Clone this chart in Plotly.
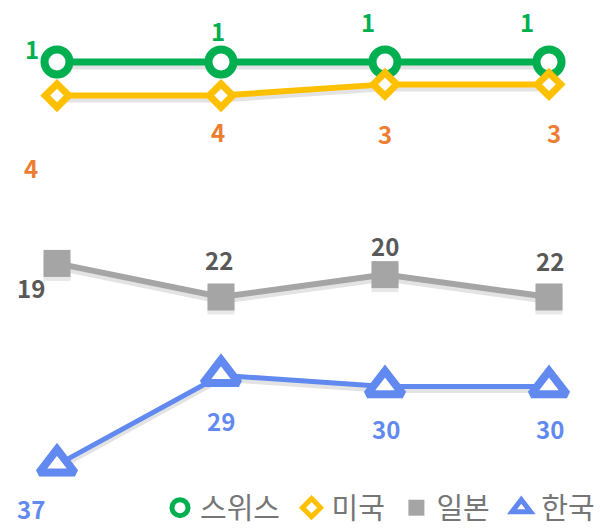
import plotly.graph_objects as go

periods = [0, 1, 2, 3]
series_names = ["스위스", "미국", "일본", "한국"]
swiss = [1, 1, 1, 1]
usa = [4, 4, 3, 3]
japan = [19, 22, 20, 22]
korea = [37, 29, 30, 30]

line_colors = ["#00B050", "#FFC000", "#A5A5A5", "#6289F0"]
label_colors = ["#00B050", "#ED7D31", "#595959", "#6289F0"]
values = [swiss, usa, japan, korea]

# label offsets (px) per series/point
label_offsets = [
    [(-25, -14), (-3, -32), (-17, -41), (-22, -41)],
    [(-26, 72), (-3, 36), (0, 49), (5, 48)],
    [(-26, 24), (-2, -37), (0, -29), (1, -36)],
    [(-26, 44), (0, 45), (1, 42), (1, 42)],
]

markers = [
    dict(symbol="circle", size=25, color="white", line=dict(color=line_colors[0], width=8)),
    dict(symbol="diamond", size=18, color="white", line=dict(color=line_colors[1], width=7)),
    dict(symbol="square", size=27, color=line_colors[2], line=dict(color=line_colors[2], width=0)),
    dict(symbol="triangle-up", size=31, color="white", line=dict(color=line_colors[3], width=8)),
]
legend_markers = [
    dict(symbol="circle", size=16, color="white", line=dict(color=line_colors[0], width=5)),
    dict(symbol="diamond", size=14, color="white", line=dict(color=line_colors[1], width=5)),
    dict(symbol="square", size=16, color=line_colors[2], line=dict(width=0)),
    dict(symbol="triangle-up", size=18, color="white", line=dict(color=line_colors[3], width=5)),
]
line_widths = [7, 6, 6, 5]

fig = go.Figure()

# soft shadows (drawn on the lower axis so real series sit on top)
for vals, m, lw in zip(values, markers, line_widths):
    fig.add_trace(go.Scatter(
        x=periods, y=vals, mode="lines+markers", yaxis="y", showlegend=False,
        hoverinfo="skip",
        line=dict(color="rgba(0,0,0,0.11)", width=lw),
        marker=dict(symbol=m["symbol"], size=m["size"], color="rgba(0,0,0,0.09)",
                    line=dict(color="rgba(0,0,0,0)", width=m["line"]["width"])),
    ))

for name, vals, col, m, lw in zip(series_names, values, line_colors, markers, line_widths):
    fig.add_trace(go.Scatter(
        x=periods, y=vals, mode="lines+markers", name=name, yaxis="y2",
        line=dict(color=col, width=lw), marker=m, showlegend=False,
    ))

# legend entries (markers only)
pad = "\u00a0"
for i, (name, lm) in enumerate(zip(series_names, legend_markers)):
    label = name + (pad if i < len(series_names) - 1 else "")
    fig.add_trace(go.Scatter(x=[None], y=[None], mode="markers", name=label,
                             yaxis="y2", marker=lm))

for vals, offs, lc in zip(values, label_offsets, label_colors):
    for x, v, (dx, dy) in zip(periods, vals, offs):
        fig.add_annotation(x=x, y=v, yref="y2", text=str(v), showarrow=False,
                           xshift=dx, yshift=-dy,
                           font=dict(family="Noto Sans CJK KR", size=24, color=lc, weight="bold"))

px_per_rank = 11.19
y_top = 1 - 62 / px_per_rank
y_bot = y_top + 529 / px_per_rank
shadow_shift = 4 / px_per_rank
x_left = -57 / 164
x_right = x_left + 600 / 164

fig.update_layout(
    width=600, height=529,
    margin=dict(l=0, r=0, t=0, b=0, autoexpand=False),
    paper_bgcolor="white", plot_bgcolor="white",
    xaxis=dict(range=[x_left, x_right], visible=False),
    yaxis=dict(range=[y_bot - shadow_shift, y_top - shadow_shift], visible=False),
    yaxis2=dict(range=[y_bot, y_top], visible=False, overlaying="y"),
    showlegend=True,
    legend=dict(orientation="h", x=1.0, xanchor="right", y=0.04, yanchor="middle",
                bgcolor="rgba(0,0,0,0)", font=dict(family="Noto Sans CJK KR", size=29, color="#767676"),
                itemwidth=30, tracegroupgap=0),
)

fig.write_html("out.html", config={"displayModeBar": False},
               post_script="document.body.style.margin='0';")
